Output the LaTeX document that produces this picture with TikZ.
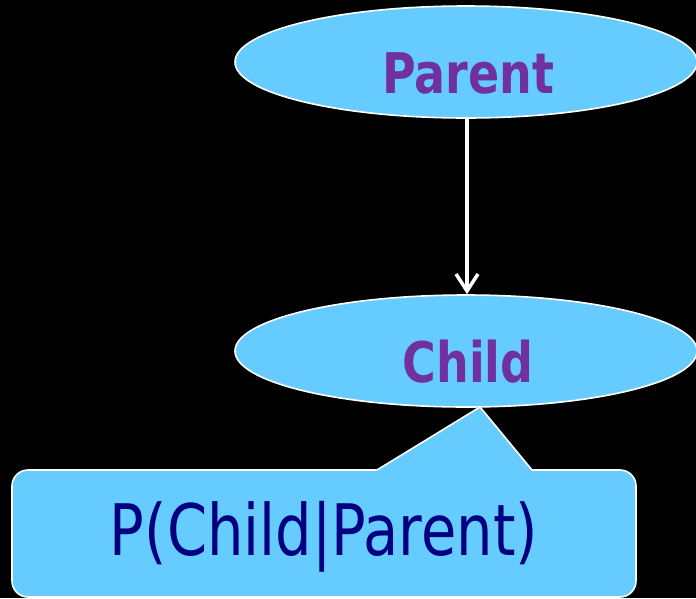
\documentclass[tikz,border=0pt]{standalone}
\usepackage{fontspec}
\setmainfont{DejaVu Sans}
\usetikzlibrary{shapes.geometric,arrows.meta}
\definecolor{fillblue}{HTML}{66CCFF}
\definecolor{lblpurple}{HTML}{7030A0}
\definecolor{calloutnavy}{HTML}{000080}
\begin{document}
\begin{tikzpicture}[x=1pt,y=-1pt,
  varnode/.style={ellipse, draw=white, line width=1.6pt, fill=fillblue,
    minimum width=462pt, minimum height=112pt, inner sep=0pt},
  varlabel/.style={anchor=base, text=lblpurple, font=\fontsize{56}{60}\selectfont\bfseries, inner sep=0pt},
  edge/.style={draw=white, line width=3.5pt, -{Straight Barb[length=17pt,width=22pt,line width=3.5pt]}},
  callout/.style={draw=white, line width=1.6pt, fill=fillblue},
  calloutlabel/.style={anchor=base, text=calloutnavy, font=\fontsize{71}{75}\selectfont, inner sep=0pt}]
\fill[black] (0,0) rectangle (696,598);
\useasboundingbox (0,0) rectangle (696,598);
\node[varnode] (parent) at (466,62) {};
\node[varlabel] (parentlbl) at (468,93) {\scalebox{0.82}[1]{Parent}};
\node[varnode] (child) at (466,351) {};
\node[varlabel] (childlbl) at (468,382) {\scalebox{0.82}[1]{Child}};
\draw[edge] ([xshift=1pt]parent.south) -- ([xshift=1pt]child.north);
\coordinate (tip) at (480,407);
\draw[callout] (377,470) -- (tip) -- (532,470) [rounded corners=16pt] -- (636,470) -- (636,597) -- (12,597) -- (12,470) [sharp corners] -- (377,470) -- cycle;
\node[calloutlabel] (cpt) at (324,555) {\scalebox{0.81}[1]{P(Child|Parent)}};
\end{tikzpicture}
\end{document}
